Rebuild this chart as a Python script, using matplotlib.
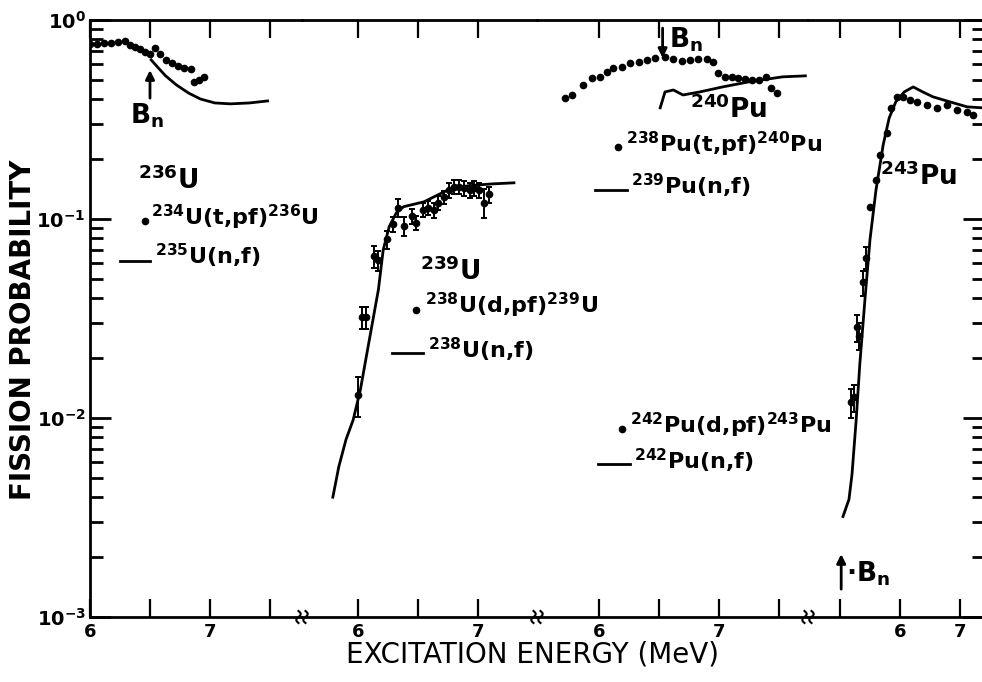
import numpy as np
import matplotlib.pyplot as plt
from matplotlib.ticker import LogLocator, NullFormatter

plt.rcParams['font.family'] = 'DejaVu Sans'
plt.rcParams['mathtext.fontset'] = 'dejavusans'
plt.rcParams['mathtext.default'] = 'bf'

# --- 236U : 234U(t,pf) points and 235U(n,f) curve ---
u236_E = [6.00, 6.06, 6.12, 6.175, 6.23, 6.29, 6.33, 6.375, 6.42, 6.46, 6.50,
          6.54, 6.58, 6.63, 6.68, 6.73, 6.78, 6.84, 6.87, 6.91, 6.95]
u236_P = [0.758, 0.758, 0.766, 0.766, 0.775, 0.785, 0.749, 0.732, 0.715, 0.691, 0.675,
          0.724, 0.675, 0.630, 0.608, 0.588, 0.574, 0.567, 0.488, 0.500, 0.518]
u235nf_E = [6.51, 6.57, 6.63, 6.72, 6.82, 6.92, 7.04, 7.17, 7.33, 7.48]
u235nf_P = [0.630, 0.574, 0.524, 0.472, 0.430, 0.401, 0.383, 0.379, 0.383, 0.392]

# --- 239U : 238U(d,pf) points with errors and 238U(n,f) curve ---
u239_E = [6.00, 6.03, 6.07, 6.13, 6.17, 6.24, 6.29, 6.33, 6.38, 6.45, 6.48, 6.54, 6.58,
          6.63, 6.67, 6.72, 6.76, 6.80, 6.84, 6.88, 6.93, 6.97, 7.01, 7.05, 7.09]
u239_P = [0.0131, 0.032, 0.032, 0.065, 0.062, 0.079, 0.094, 0.114, 0.092, 0.103, 0.096, 0.111, 0.114,
          0.111, 0.121, 0.129, 0.140, 0.145, 0.145, 0.143, 0.140, 0.143, 0.140, 0.121, 0.133]
u239_err = [0.003, 0.004, 0.004, 0.008, 0.007, 0.008, 0.008, 0.012, 0.010, 0.009, 0.008, 0.009, 0.009,
            0.010, 0.010, 0.010, 0.012, 0.012, 0.012, 0.012, 0.012, 0.012, 0.012, 0.020, 0.012]
u238nf_E = [5.79, 5.84, 5.90, 5.96, 6.02, 6.09, 6.17, 6.21, 6.26, 6.32, 6.38, 6.55, 6.75, 6.92, 7.11, 7.30]
u238nf_P = [0.0040, 0.0057, 0.0078, 0.0098, 0.0139, 0.0239, 0.0442, 0.070, 0.0915, 0.1076,
            0.1153, 0.122, 0.140, 0.147, 0.150, 0.152]

# --- 240Pu : 238Pu(t,pf) points and 239Pu(n,f) curve ---
pu240_E = [5.72, 5.775, 5.87, 5.94, 6.01, 6.07, 6.12, 6.19, 6.26, 6.33, 6.40, 6.47, 6.55, 6.62, 6.69,
           6.76, 6.825, 6.90, 6.95, 6.99, 7.05, 7.11, 7.16, 7.22, 7.275, 7.33, 7.39, 7.43, 7.48]
pu240_P = [0.406, 0.420, 0.472, 0.512, 0.518, 0.548, 0.574, 0.581, 0.608, 0.616, 0.630, 0.645, 0.652,
           0.637, 0.623, 0.630, 0.637, 0.637, 0.616, 0.542, 0.518, 0.518, 0.512, 0.506, 0.500, 0.500,
           0.518, 0.456, 0.430]
pu239nf_E = [6.51, 6.55, 6.62, 6.70, 6.84, 7.03, 7.25, 7.53, 7.72]
pu239nf_P = [0.362, 0.435, 0.445, 0.420, 0.435, 0.461, 0.489, 0.518, 0.524]

# --- 243Pu : 242Pu(d,pf) points (errors on the steep part) and 242Pu(n,f) curve ---
pu243_E = [5.18, 5.23, 5.28, 5.32, 5.38, 5.43, 5.50, 5.60, 5.67, 5.78, 5.85, 5.95, 6.05, 6.17,
           6.28, 6.45, 6.62, 6.78, 6.95, 7.12, 7.22]
pu243_P = [0.0120, 0.0127, 0.0285, 0.0259, 0.048, 0.064, 0.115, 0.157, 0.210, 0.271, 0.362, 0.411,
           0.411, 0.397, 0.388, 0.375, 0.362, 0.375, 0.353, 0.345, 0.334]
pu243_err = [0.0020, 0.0020, 0.0045, 0.0040, 0.007, 0.008, 0, 0, 0, 0, 0, 0,
             0, 0, 0, 0, 0, 0, 0, 0, 0]
pu242nf_E = [5.05, 5.15, 5.20, 5.27, 5.33, 5.42, 5.50, 5.60, 5.72, 5.82, 5.93, 6.07, 6.22,
             6.38, 6.55, 6.83, 7.12, 7.37]
pu242nf_P = [0.0032, 0.0039, 0.0052, 0.0098, 0.0186, 0.0408, 0.0787, 0.140, 0.236, 0.322, 0.388,
             0.435, 0.461, 0.435, 0.411, 0.388, 0.366, 0.362]

# x-range of each panel (MeV) and their widths on the page
xlims = [(6.0, 7.767), (5.533, 7.492), (5.483, 7.742), (4.467, 7.40)]
widths = [212, 235, 271, 176]
xticks = [[6.0, 6.5, 7.0, 7.5], [6.0, 6.5, 7.0], [6.0, 6.5, 7.0, 7.5], [5.0, 6.0, 7.0]]
xticklabels = [['6', '', '7', ''], ['6', '', '7'], ['6', '', '7', ''], ['', '6', '7']]

W, H = 982, 682
fig = plt.figure(figsize=(W / 100, H / 100), dpi=100)
gs = fig.add_gridspec(1, 4, width_ratios=widths, wspace=0,
                      left=90 / W, right=984 / W, bottom=1 - 617 / H, top=1 - 20 / H)
axes = [fig.add_subplot(gs[0, 0])]
for i in range(1, 4):
    axes.append(fig.add_subplot(gs[0, i], sharey=axes[0]))

for i, ax in enumerate(axes):
    ax.set_facecolor('none')
    ax.set_yscale('log')
    ax.set_ylim(1e-3, 1)
    ax.set_xlim(*xlims[i])
    for s in ax.spines.values():
        s.set_linewidth(2)
    if i > 0:
        ax.spines['left'].set_visible(False)
    if i < 3:
        ax.spines['right'].set_visible(False)
    ax.set_xticks(xticks[i], labels=xticklabels[i])
    ax.tick_params(axis='x', which='major', direction='in', top=True, bottom=True,
                   length=13, width=1.6, labelsize=13, pad=4)
    for lab in ax.get_xticklabels():
        lab.set_fontweight('bold')
    ax.yaxis.set_minor_locator(LogLocator(base=10, subs=np.arange(2, 10)))
    ax.yaxis.set_minor_formatter(NullFormatter())
    ax.tick_params(axis='y', which='major', direction='in', left=(i == 0), right=(i == 3),
                   length=15, width=2, labelleft=(i == 0), labelsize=14, pad=3)
    ax.tick_params(axis='y', which='minor', direction='in', left=(i == 0), right=(i == 3),
                   length=9, width=2)

axes[0].set_yticks([1e-3, 1e-2, 1e-1, 1],
                   labels=[r'$10^{-3}$', r'$10^{-2}$', r'$10^{-1}$', r'$10^{0}$'])

lw = 2.0
ms = 4.5
ebar = dict(fmt='o', color='black', ms=ms, elinewidth=1.4, capsize=2.5, capthick=1.4)
arrow = dict(arrowstyle='-|>', color='black', lw=2, mutation_scale=13, shrinkA=0, shrinkB=0)
lab_kw = dict(fontsize=16, fontweight='bold', va='center', ha='left', clip_on=False)
iso_kw = dict(fontsize=19, fontweight='bold', va='center', ha='left', clip_on=False)

# 236U panel
ax = axes[0]
ax.plot(u236_E, u236_P, 'o', color='black', ms=ms)
ax.plot(u235nf_E, u235nf_P, '-', color='black', lw=lw)
ax.annotate('', xy=(6.5, 0.56), xytext=(6.5, 0.405), arrowprops=arrow)
ax.text(6.33, 0.33, r'B$_n$', **iso_kw)
ax.text(6.40, 0.156, r'$^{236}$U', **iso_kw)
ax.plot([6.46], [0.098], 'o', color='black', ms=ms)
ax.text(6.51, 0.1015, r'$^{234}$U(t,pf)$^{236}$U', **lab_kw)
ax.plot([6.25, 6.50], [0.0618, 0.0618], '-', color='black', lw=lw)
ax.text(6.54, 0.0655, r'$^{235}$U(n,f)', **lab_kw)

# 239U panel
ax = axes[1]
ax.errorbar(u239_E, u239_P, yerr=u239_err, **ebar)
ax.plot(u238nf_E, u238nf_P, '-', color='black', lw=lw)
ax.text(6.52, 0.0544, r'$^{239}$U', **iso_kw)
ax.plot([6.48], [0.0347], 'o', color='black', ms=ms)
ax.text(6.56, 0.0367, r'$^{238}$U(d,pf)$^{239}$U', **lab_kw)
ax.plot([6.28, 6.54], [0.0211, 0.0211], '-', color='black', lw=lw)
ax.text(6.58, 0.0221, r'$^{238}$U(n,f)', **lab_kw)

# 240Pu panel (the 243Pu legend sits here too)
ax = axes[2]
ax.plot(pu240_E, pu240_P, 'o', color='black', ms=ms)
ax.plot(pu239nf_E, pu239nf_P, '-', color='black', lw=lw)
ax.annotate('', xy=(6.53, 0.645), xytext=(6.53, 0.91), arrowprops=arrow)
ax.text(6.58, 0.80, r'B$_n$', **iso_kw)
ax.text(6.76, 0.353, r'$^{240}$Pu', **iso_kw)
ax.plot([6.16], [0.231], 'o', color='black', ms=ms)
ax.text(6.225, 0.236, r'$^{238}$Pu(t,pf)$^{240}$Pu', **lab_kw)
ax.plot([5.97, 6.23], [0.140, 0.140], '-', color='black', lw=lw)
ax.text(6.27, 0.147, r'$^{239}$Pu(n,f)', **lab_kw)
ax.plot([6.19], [0.00877], 'o', color='black', ms=ms)
ax.text(6.26, 0.00918, r'$^{242}$Pu(d,pf)$^{243}$Pu', **lab_kw)
ax.plot([5.99, 6.26], [0.00585, 0.00585], '-', color='black', lw=lw)
ax.text(6.29, 0.0061, r'$^{242}$Pu(n,f)', **lab_kw)

# 243Pu panel
ax = axes[3]
ax.errorbar(pu243_E, pu243_P, yerr=pu243_err, **ebar)
ax.plot(pu242nf_E, pu242nf_P, '-', color='black', lw=lw)
ax.text(5.67, 0.163, r'$^{243}$Pu', **iso_kw)
ax.annotate('', xy=(5.02, 0.00207), xytext=(5.02, 0.00138), arrowprops=arrow)
ax.text(5.10, 0.00164, r'$\cdot$B$_n$', **iso_kw)

# small wavy break marks on the energy axis between panels
t = np.linspace(-1, 1, 30)
yb = 1 - 617 / H
for ax in axes[:3]:
    x1 = ax.get_position().x1 * W
    for off in (-3.5, 3.5):
        xs = (x1 + off + 2.2 * np.sin(np.pi * t)) / W
        ys = yb + 6 * t / H
        fig.add_artist(plt.Line2D(xs, ys, color='black', lw=1.5))

fig.text(23 / W, 1 - 330 / H, 'FISSION PROBABILITY', rotation=90,
         fontsize=20, fontweight='bold', ha='center', va='center')
fig.text(533 / W, 1 - 655 / H, 'EXCITATION ENERGY (MeV)',
         fontsize=20, ha='center', va='center')

fig.savefig('out.png', dpi=100)
